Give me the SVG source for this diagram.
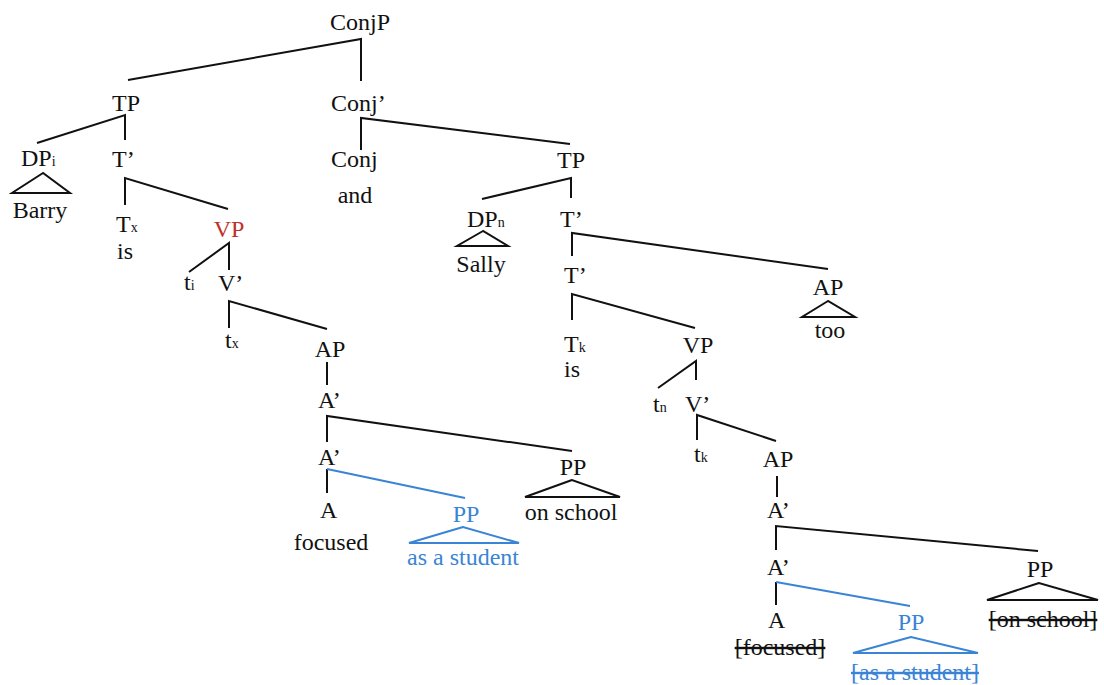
<svg xmlns="http://www.w3.org/2000/svg" width="1104" height="685" viewBox="0 0 1104 685">
<style>
.m{text-anchor:middle}
.s{font-size:14px}
.red{fill:#c0302a}
.blue{fill:#3a84d6}
.strike{text-decoration:line-through}
.e{fill:none;stroke:#111;stroke-width:2;stroke-linejoin:miter}
.eb{fill:none;stroke:#3a84d6;stroke-width:2}
</style>
<rect width="1104" height="685" fill="#fff"/>
<g id="connectors">
<path class="e" d="M128,80 L361,39 L361,81"/>
<path class="e" d="M37,143 L125,115 L125,140"/>
<path class="e" d="M43,173 L12,193 L70,193 Z"/>
<path class="e" d="M125,205 L125,178 L228,209"/>
<path class="e" d="M189,272 L229,243 L229,270"/>
<path class="e" d="M229,328 L229,301 L327,329"/>
<path class="e" d="M327,362 L327,385"/>
<path class="e" d="M327,442 L327,416 L572,451"/>
<path class="e" d="M572,480 L525,497 L620,497 Z"/>
<path class="e" d="M327,493 L327,469"/>
<path class="eb" d="M327,469 L465,498"/>
<path class="eb" d="M463,527 L409,543 L519,543 Z"/>
<path class="e" d="M361,150 L361,118 L570,144"/>
<path class="e" d="M482,199 L571,178 L571,198"/>
<path class="e" d="M483,231 L457,246 L508,246 Z"/>
<path class="e" d="M572,256 L572,233 L828,269"/>
<path class="e" d="M828,301 L802,317 L855,317 Z"/>
<path class="e" d="M572,320 L572,294 L695,328"/>
<path class="e" d="M658,388 L696,361 L696,380"/>
<path class="e" d="M697,440 L697,415 L776,441"/>
<path class="e" d="M777,476 L777,497"/>
<path class="e" d="M776,550 L776,526 L1038,551"/>
<path class="e" d="M1039,583 L987,600 L1098,600 Z"/>
<path class="e" d="M776,605 L776,582"/>
<path class="eb" d="M776,582 L910,606"/>
<path class="eb" d="M911,637 L853,653 L978,653 Z"/>
</g>
<g font-family="Liberation Serif, DejaVu Serif, serif" font-size="24" fill="#111">
<g id="conjp"><text class="m" x="360" y="30">ConjP</text></g>
<g id="tp1"><text class="m" x="126" y="111">TP</text></g>
<g id="dpi"><text x="21" y="166">DP<tspan class="s">i</tspan></text><text class="m" x="40" y="218">Barry</text></g>
<g id="tbar1"><text x="112" y="167">T’</text></g>
<g id="tx"><text x="116" y="232">T<tspan class="s">x</tspan></text><text x="117" y="259">is</text></g>
<g id="vp1"><text class="m red" x="229" y="237">VP</text></g>
<g id="ti"><text x="184" y="290">t<tspan class="s">i</tspan></text></g>
<g id="vbar1"><text x="218" y="291">V’</text></g>
<g id="tx2"><text x="225" y="348">t<tspan class="s">x</tspan></text></g>
<g id="ap1"><text class="m" x="330" y="357">AP</text></g>
<g id="abar1a"><text x="318" y="408">A’</text></g>
<g id="abar1b"><text x="318" y="465">A’</text></g>
<g id="a1"><text x="320" y="518">A</text><text class="m" x="331" y="550">focused</text></g>
<g id="pp1blue"><text class="m blue" x="466" y="522">PP</text><text class="m blue" x="463" y="565">as a student</text></g>
<g id="pp1"><text class="m" x="573" y="475">PP</text><text class="m" x="571" y="520">on school</text></g>
<g id="conjbar"><text x="331" y="111">Conj’</text></g>
<g id="conj"><text x="331" y="167">Conj</text><text class="m" x="355" y="203">and</text></g>
<g id="tp2"><text class="m" x="571" y="168">TP</text></g>
<g id="dpn"><text x="467" y="227">DP<tspan class="s">n</tspan></text><text class="m" x="481" y="272">Sally</text></g>
<g id="tbar2a"><text x="560" y="227">T’</text></g>
<g id="tbar2b"><text x="564" y="283">T’</text></g>
<g id="aptoo"><text class="m" x="828" y="295">AP</text><text class="m" x="830" y="338">too</text></g>
<g id="tk"><text x="564" y="352">T<tspan class="s">k</tspan></text><text x="564" y="377">is</text></g>
<g id="vp2"><text class="m" x="698" y="353">VP</text></g>
<g id="tn"><text x="653" y="412">t<tspan class="s">n</tspan></text></g>
<g id="vbar2"><text x="685" y="412">V’</text></g>
<g id="tk2"><text x="694" y="462">t<tspan class="s">k</tspan></text></g>
<g id="ap2"><text class="m" x="778" y="467">AP</text></g>
<g id="abar2a"><text x="767" y="518">A’</text></g>
<g id="abar2b"><text x="767" y="575">A’</text></g>
<g id="pp2"><text class="m" x="1040" y="577">PP</text><text class="m strike" x="1043" y="627">[on school]</text></g>
<g id="a2"><text x="768" y="628">A</text><text class="m strike" x="780" y="655">[focused]</text></g>
<g id="pp2blue"><text class="m blue" x="911" y="630">PP</text><text class="m blue strike" x="915" y="680">[as a student]</text></g>
</g>
</svg>
